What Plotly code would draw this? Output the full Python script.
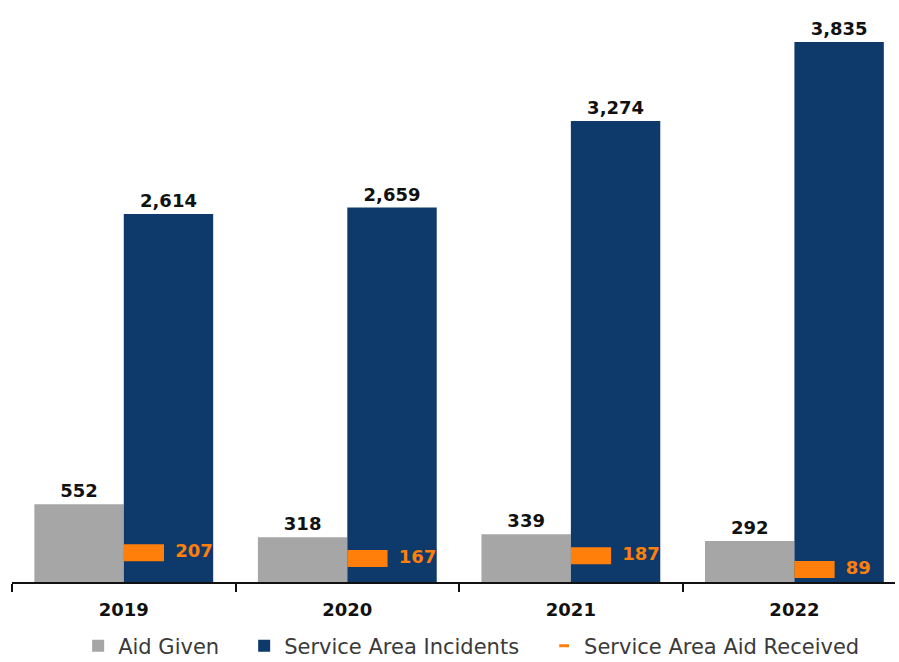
import plotly.graph_objects as go

years = ["2019", "2020", "2021", "2022"]
aid_given = [552, 318, 339, 292]
service_area_incidents = [2614, 2659, 3274, 3835]
aid_received = [207, 167, 187, 89]

GRAY = "#A6A6A6"
NAVY = "#0E3A6B"
ORANGE = "#FF7F0A"
FONT = "DejaVu Sans"
PAD = "\u00a0" * 3  # extra room after a legend label

xs = list(range(len(years)))
bar_w = 0.4
seg_w = 0.18

fig = go.Figure()

fig.add_trace(go.Bar(
    x=xs, y=aid_given, name="Aid Given" + PAD,
    width=bar_w, offset=-bar_w, marker=dict(color=GRAY, line=dict(width=0)),
    text=[f"{v:,}" for v in aid_given], textposition="outside",
    textfont=dict(family=FONT, size=18, color="#111111", weight="bold"),
    cliponaxis=False,
))
fig.add_trace(go.Bar(
    x=xs, y=service_area_incidents, name="Service Area Incidents" + PAD,
    width=bar_w, offset=0, marker=dict(color=NAVY, line=dict(width=0)),
    text=[f"{v:,}" for v in service_area_incidents], textposition="outside",
    textfont=dict(family=FONT, size=18, color="#111111", weight="bold"),
    cliponaxis=False,
))

# short thick orange segments sitting on the left side of each navy bar
seg_x, seg_y = [], []
for i, v in zip(xs, aid_received):
    seg_x += [i, i + seg_w, None]
    seg_y += [v, v, None]
fig.add_trace(go.Scatter(
    x=seg_x, y=seg_y, mode="lines", line=dict(color=ORANGE, width=17),
    showlegend=False, hoverinfo="skip",
))
fig.add_trace(go.Scatter(
    x=[i + seg_w + 0.05 for i in xs], y=aid_received, mode="text",
    text=[f"{v:,}" for v in aid_received], textposition="middle right",
    textfont=dict(family=FONT, size=18, color=ORANGE, weight="bold"),
    showlegend=False, hoverinfo="skip", cliponaxis=False,
))
# legend entry for the orange series
fig.add_trace(go.Scatter(
    x=[None], y=[None], mode="markers", name="Service Area Aid Received",
    marker=dict(symbol="line-ew", size=7, line=dict(color=ORANGE, width=3)),
))

fig.update_layout(
    width=899, height=662,
    margin=dict(l=12, r=4, t=0, b=80, autoexpand=False),
    plot_bgcolor="white", paper_bgcolor="white",
    barmode="overlay",
    showlegend=True,
    legend=dict(
        orientation="h", x=0.52, xanchor="center",
        yref="container", y=0.024, yanchor="middle",
        font=dict(family=FONT, size=21, color="#3A3A3A"),
        itemwidth=30, tracegroupgap=0,
    ),
    xaxis=dict(
        range=[-0.5, 3.45],
        tickvals=xs, ticktext=years, ticks="",
        tickfont=dict(family=FONT, size=18, color="#111111", weight="bold"),
        ticklabelstandoff=10,
        showline=True, linecolor="#111111", linewidth=2,
        showgrid=False, zeroline=False,
        minor=dict(tick0=-0.5, dtick=1, ticks="outside", ticklen=8,
                   tickwidth=2, tickcolor="#111111", showgrid=False),
    ),
    yaxis=dict(range=[0, 4133], visible=False),
)

fig.write_html("out.html")
